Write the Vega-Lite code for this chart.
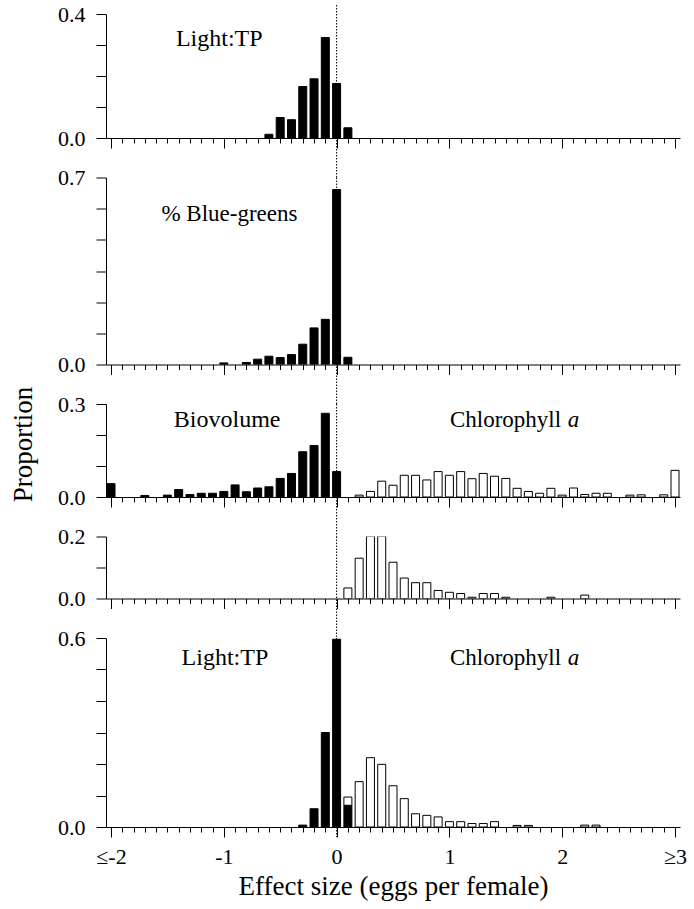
{
  "$schema": "https://vega.github.io/schema/vega-lite/v6.json",
  "background": "white",
  "padding": {"left": 9, "top": 3, "right": 5, "bottom": 5},
  "spacing": 39.5,
  "bounds": "flush",
  "config": {
    "view": {"stroke": null},
    "font": "Liberation Serif",
    "axis": {"labelFont": "Liberation Serif", "titleFont": "Liberation Serif", "labelColor": "black", "titleColor": "black", "domainColor": "black", "tickColor": "black", "grid": false, "titleFontWeight": "normal", "domainWidth": 1, "tickWidth": 1, "labelOverlap": false}
  },
  "datasets": {
    "p1": [
      {"e": -0.6, "p": 0.012, "v": "Light:TP"},
      {"e": -0.5, "p": 0.066, "v": "Light:TP"},
      {"e": -0.4, "p": 0.059, "v": "Light:TP"},
      {"e": -0.3, "p": 0.166, "v": "Light:TP"},
      {"e": -0.2, "p": 0.191, "v": "Light:TP"},
      {"e": -0.1, "p": 0.324, "v": "Light:TP"},
      {"e": 0.0, "p": 0.176, "v": "Light:TP"},
      {"e": 0.1, "p": 0.033, "v": "Light:TP"}
    ],
    "p2": [
      {"e": -1.0, "p": 0.006, "v": "% Blue-greens"},
      {"e": -0.8, "p": 0.0075, "v": "% Blue-greens"},
      {"e": -0.7, "p": 0.020, "v": "% Blue-greens"},
      {"e": -0.6, "p": 0.031, "v": "% Blue-greens"},
      {"e": -0.5, "p": 0.026, "v": "% Blue-greens"},
      {"e": -0.4, "p": 0.037, "v": "% Blue-greens"},
      {"e": -0.3, "p": 0.076, "v": "% Blue-greens"},
      {"e": -0.2, "p": 0.137, "v": "% Blue-greens"},
      {"e": -0.1, "p": 0.169, "v": "% Blue-greens"},
      {"e": 0.0, "p": 0.655, "v": "% Blue-greens"},
      {"e": 0.1, "p": 0.027, "v": "% Blue-greens"}
    ],
    "p3": [
      {"e": -2.0, "p": 0.043, "v": "Biovolume"},
      {"e": -1.7, "p": 0.005, "v": "Biovolume"},
      {"e": -1.5, "p": 0.006, "v": "Biovolume"},
      {"e": -1.4, "p": 0.024, "v": "Biovolume"},
      {"e": -1.3, "p": 0.008, "v": "Biovolume"},
      {"e": -1.2, "p": 0.012, "v": "Biovolume"},
      {"e": -1.1, "p": 0.012, "v": "Biovolume"},
      {"e": -1.0, "p": 0.018, "v": "Biovolume"},
      {"e": -0.9, "p": 0.039, "v": "Biovolume"},
      {"e": -0.8, "p": 0.017, "v": "Biovolume"},
      {"e": -0.7, "p": 0.029, "v": "Biovolume"},
      {"e": -0.6, "p": 0.033, "v": "Biovolume"},
      {"e": -0.5, "p": 0.060, "v": "Biovolume"},
      {"e": -0.4, "p": 0.076, "v": "Biovolume"},
      {"e": -0.3, "p": 0.146, "v": "Biovolume"},
      {"e": -0.2, "p": 0.166, "v": "Biovolume"},
      {"e": -0.1, "p": 0.270, "v": "Biovolume"},
      {"e": 0.0, "p": 0.082, "v": "Biovolume"},
      {"e": 0.2, "p": 0.006, "v": "Chlorophyll a"},
      {"e": 0.3, "p": 0.018, "v": "Chlorophyll a"},
      {"e": 0.4, "p": 0.051, "v": "Chlorophyll a"},
      {"e": 0.5, "p": 0.038, "v": "Chlorophyll a"},
      {"e": 0.6, "p": 0.070, "v": "Chlorophyll a"},
      {"e": 0.7, "p": 0.070, "v": "Chlorophyll a"},
      {"e": 0.8, "p": 0.055, "v": "Chlorophyll a"},
      {"e": 0.9, "p": 0.082, "v": "Chlorophyll a"},
      {"e": 1.0, "p": 0.070, "v": "Chlorophyll a"},
      {"e": 1.1, "p": 0.082, "v": "Chlorophyll a"},
      {"e": 1.2, "p": 0.059, "v": "Chlorophyll a"},
      {"e": 1.3, "p": 0.076, "v": "Chlorophyll a"},
      {"e": 1.4, "p": 0.067, "v": "Chlorophyll a"},
      {"e": 1.5, "p": 0.060, "v": "Chlorophyll a"},
      {"e": 1.6, "p": 0.028, "v": "Chlorophyll a"},
      {"e": 1.7, "p": 0.018, "v": "Chlorophyll a"},
      {"e": 1.8, "p": 0.012, "v": "Chlorophyll a"},
      {"e": 1.9, "p": 0.028, "v": "Chlorophyll a"},
      {"e": 2.0, "p": 0.006, "v": "Chlorophyll a"},
      {"e": 2.1, "p": 0.029, "v": "Chlorophyll a"},
      {"e": 2.2, "p": 0.008, "v": "Chlorophyll a"},
      {"e": 2.3, "p": 0.012, "v": "Chlorophyll a"},
      {"e": 2.4, "p": 0.012, "v": "Chlorophyll a"},
      {"e": 2.6, "p": 0.006, "v": "Chlorophyll a"},
      {"e": 2.7, "p": 0.007, "v": "Chlorophyll a"},
      {"e": 2.9, "p": 0.007, "v": "Chlorophyll a"},
      {"e": 3.0, "p": 0.086, "v": "Chlorophyll a"}
    ],
    "p4": [
      {"e": 0.1, "p": 0.034, "v": "Chlorophyll a"},
      {"e": 0.2, "p": 0.130, "v": "Chlorophyll a"},
      {"e": 0.3, "p": 0.201, "v": "Chlorophyll a"},
      {"e": 0.4, "p": 0.201, "v": "Chlorophyll a"},
      {"e": 0.5, "p": 0.117, "v": "Chlorophyll a"},
      {"e": 0.6, "p": 0.066, "v": "Chlorophyll a"},
      {"e": 0.7, "p": 0.051, "v": "Chlorophyll a"},
      {"e": 0.8, "p": 0.051, "v": "Chlorophyll a"},
      {"e": 0.9, "p": 0.026, "v": "Chlorophyll a"},
      {"e": 1.0, "p": 0.020, "v": "Chlorophyll a"},
      {"e": 1.1, "p": 0.016, "v": "Chlorophyll a"},
      {"e": 1.2, "p": 0.004, "v": "Chlorophyll a"},
      {"e": 1.3, "p": 0.016, "v": "Chlorophyll a"},
      {"e": 1.4, "p": 0.016, "v": "Chlorophyll a"},
      {"e": 1.5, "p": 0.004, "v": "Chlorophyll a"},
      {"e": 1.9, "p": 0.004, "v": "Chlorophyll a"},
      {"e": 2.2, "p": 0.011, "v": "Chlorophyll a"}
    ],
    "p5": [
      {"e": -0.3, "p": 0.006, "v": "Light:TP"},
      {"e": -0.2, "p": 0.058, "v": "Light:TP"},
      {"e": -0.1, "p": 0.300, "v": "Light:TP"},
      {"e": 0.0, "p": 0.596, "v": "Light:TP"},
      {"e": 0.1, "p": 0.069, "v": "Light:TP"},
      {"e": 0.1, "p": 0.026, "v": "Chlorophyll a"},
      {"e": 0.2, "p": 0.144, "v": "Chlorophyll a"},
      {"e": 0.3, "p": 0.220, "v": "Chlorophyll a"},
      {"e": 0.4, "p": 0.199, "v": "Chlorophyll a"},
      {"e": 0.5, "p": 0.131, "v": "Chlorophyll a"},
      {"e": 0.6, "p": 0.090, "v": "Chlorophyll a"},
      {"e": 0.7, "p": 0.042, "v": "Chlorophyll a"},
      {"e": 0.8, "p": 0.037, "v": "Chlorophyll a"},
      {"e": 0.9, "p": 0.032, "v": "Chlorophyll a"},
      {"e": 1.0, "p": 0.017, "v": "Chlorophyll a"},
      {"e": 1.1, "p": 0.017, "v": "Chlorophyll a"},
      {"e": 1.2, "p": 0.011, "v": "Chlorophyll a"},
      {"e": 1.3, "p": 0.011, "v": "Chlorophyll a"},
      {"e": 1.4, "p": 0.017, "v": "Chlorophyll a"},
      {"e": 1.6, "p": 0.005, "v": "Chlorophyll a"},
      {"e": 1.7, "p": 0.005, "v": "Chlorophyll a"},
      {"e": 2.2, "p": 0.006, "v": "Chlorophyll a"},
      {"e": 2.3, "p": 0.006, "v": "Chlorophyll a"}
    ]
  },
  "vconcat": [
    {
      "width": 574, "height": 124,
      "encoding": {
        "x": {"field": "e", "type": "quantitative", "scale": {"domain": [-2, 3], "nice": false, "zero": false}, "axis": {"title": null, "labels": false, "values": [-2,-1.9,-1.8,-1.7,-1.6,-1.5,-1.4,-1.3,-1.2,-1.1,-1,-0.9,-0.8,-0.7,-0.6,-0.5,-0.4,-0.3,-0.2,-0.1,0,0.1,0.2,0.3,0.4,0.5,0.6,0.7,0.8,0.9,1,1.1,1.2,1.3,1.4,1.5,1.6,1.7,1.8,1.9,2,2.1,2.2,2.3,2.4,2.5,2.6,2.7,2.8,2.9,3], "tickSize": {"condition": {"test": "abs(datum.value - round(datum.value)) < 0.001", "value": 10}, "value": 5}}},
        "y": {"field": "p", "type": "quantitative", "scale": {"domain": [0, 0.4], "nice": false}, "axis": {"title": null, "values": [0, 0.1, 0.2, 0.3, 0.4], "labelExpr": "datum.value === 0 || datum.value === 0.4 ? format(datum.value, '.1f') : ''", "tickSize": 10, "labelPadding": 11, "labelFontSize": 22}}
      },
      "layer": [
        {"data": {"name": "p1"}, "mark": {"type": "bar", "size": 8, "stroke": "black", "strokeWidth": 1, "clip": true},
         "encoding": {"fill": {"field": "v", "type": "nominal", "scale": {"domain": ["Light:TP", "% Blue-greens", "Biovolume", "Chlorophyll a"], "range": ["black", "black", "black", "white"]}, "legend": null}}},
        {"data": {"name": "p1"}, "transform": [{"filter": "datum.e === 0"}], "mark": {"type": "rule", "color": "black", "strokeDash": [1.5, 1.5], "strokeWidth": 1},
         "encoding": {"y": {"datum": 0.429}, "y2": {"datum": -0.128}}},
        {"data": {"name": "p1"}, "transform": [{"filter": "datum.e === 0"}], "mark": {"type": "text", "text": "Light:TP", "font": "Liberation Serif", "fontSize": 24, "align": "center", "baseline": "middle", "color": "black"},
         "encoding": {"x": {"datum": -1.04}, "y": {"datum": 0.318}}}
      ]
    },
    {
      "width": 574, "height": 187,
      "encoding": {
        "x": {"field": "e", "type": "quantitative", "scale": {"domain": [-2, 3], "nice": false, "zero": false}, "axis": {"title": null, "labels": false, "values": [-2,-1.9,-1.8,-1.7,-1.6,-1.5,-1.4,-1.3,-1.2,-1.1,-1,-0.9,-0.8,-0.7,-0.6,-0.5,-0.4,-0.3,-0.2,-0.1,0,0.1,0.2,0.3,0.4,0.5,0.6,0.7,0.8,0.9,1,1.1,1.2,1.3,1.4,1.5,1.6,1.7,1.8,1.9,2,2.1,2.2,2.3,2.4,2.5,2.6,2.7,2.8,2.9,3], "tickSize": {"condition": {"test": "abs(datum.value - round(datum.value)) < 0.001", "value": 10}, "value": 5}}},
        "y": {"field": "p", "type": "quantitative", "scale": {"domain": [0, 0.7], "nice": false}, "axis": {"title": null, "values": [0, 0.11667, 0.23333, 0.35, 0.46667, 0.58333, 0.7], "labelExpr": "datum.value === 0 || datum.value === 0.7 ? format(datum.value, '.1f') : ''", "tickSize": 10, "labelPadding": 11, "labelFontSize": 22}}
      },
      "layer": [
        {"data": {"name": "p2"}, "mark": {"type": "bar", "size": 8, "stroke": "black", "strokeWidth": 1, "clip": true},
         "encoding": {"fill": {"field": "v", "type": "nominal", "scale": {"domain": ["Light:TP", "% Blue-greens", "Biovolume", "Chlorophyll a"], "range": ["black", "black", "black", "white"]}, "legend": null}}},
        {"data": {"name": "p2"}, "transform": [{"filter": "datum.e === 0"}], "mark": {"type": "rule", "color": "black", "strokeDash": [1.5, 1.5], "strokeWidth": 1},
         "encoding": {"y": {"datum": 0.7}, "y2": {"datum": -0.148}}},
        {"data": {"name": "p2"}, "transform": [{"filter": "datum.e === 0"}], "mark": {"type": "text", "text": "% Blue-greens", "font": "Liberation Serif", "fontSize": 23, "align": "center", "baseline": "middle", "color": "black"},
         "encoding": {"x": {"datum": -0.95}, "y": {"datum": 0.565}}}
      ]
    },
    {
      "width": 574, "height": 93,
      "encoding": {
        "x": {"field": "e", "type": "quantitative", "scale": {"domain": [-2, 3], "nice": false, "zero": false}, "axis": {"title": null, "labels": false, "values": [-2,-1.9,-1.8,-1.7,-1.6,-1.5,-1.4,-1.3,-1.2,-1.1,-1,-0.9,-0.8,-0.7,-0.6,-0.5,-0.4,-0.3,-0.2,-0.1,0,0.1,0.2,0.3,0.4,0.5,0.6,0.7,0.8,0.9,1,1.1,1.2,1.3,1.4,1.5,1.6,1.7,1.8,1.9,2,2.1,2.2,2.3,2.4,2.5,2.6,2.7,2.8,2.9,3], "tickSize": {"condition": {"test": "abs(datum.value - round(datum.value)) < 0.001", "value": 10}, "value": 5}}},
        "y": {"field": "p", "type": "quantitative", "scale": {"domain": [0, 0.3], "nice": false}, "axis": {"title": "Proportion", "titleFontSize": 27, "titlePadding": 20, "titleY": 40, "values": [0, 0.1, 0.2, 0.3], "labelExpr": "datum.value === 0 || datum.value === 0.3 ? format(datum.value, '.1f') : ''", "tickSize": 10, "labelPadding": 11, "labelFontSize": 22}}
      },
      "layer": [
        {"data": {"name": "p3"}, "mark": {"type": "bar", "size": 8, "stroke": "black", "strokeWidth": 1, "clip": true},
         "encoding": {"fill": {"field": "v", "type": "nominal", "scale": {"domain": ["Light:TP", "% Blue-greens", "Biovolume", "Chlorophyll a"], "range": ["black", "black", "black", "white"]}, "legend": null}}},
        {"data": {"name": "p3"}, "transform": [{"filter": "datum.e === 0"}], "mark": {"type": "rule", "color": "black", "strokeDash": [1.5, 1.5], "strokeWidth": 1},
         "encoding": {"y": {"datum": 0.3}, "y2": {"datum": -0.128}}},
        {"data": {"name": "p3"}, "transform": [{"filter": "datum.e === 0"}], "mark": {"type": "text", "text": "Biovolume", "font": "Liberation Serif", "fontSize": 24, "align": "center", "baseline": "middle", "color": "black"},
         "encoding": {"x": {"datum": -0.97}, "y": {"datum": 0.25}}},
        {"data": {"name": "p3"}, "transform": [{"filter": "datum.e === 0"}], "mark": {"type": "text", "text": "Chlorophyll", "font": "Liberation Serif", "fontSize": 23, "align": "right", "baseline": "middle", "color": "black"},
         "encoding": {"x": {"datum": 1.99}, "y": {"datum": 0.25}}},
        {"data": {"name": "p3"}, "transform": [{"filter": "datum.e === 0"}], "mark": {"type": "text", "text": "a", "font": "Liberation Serif", "fontStyle": "italic", "fontSize": 23, "align": "left", "baseline": "middle", "color": "black"},
         "encoding": {"x": {"datum": 2.05}, "y": {"datum": 0.25}}}
      ]
    },
    {
      "width": 574, "height": 62,
      "encoding": {
        "x": {"field": "e", "type": "quantitative", "scale": {"domain": [-2, 3], "nice": false, "zero": false}, "axis": {"title": null, "labels": false, "values": [-2,-1.9,-1.8,-1.7,-1.6,-1.5,-1.4,-1.3,-1.2,-1.1,-1,-0.9,-0.8,-0.7,-0.6,-0.5,-0.4,-0.3,-0.2,-0.1,0,0.1,0.2,0.3,0.4,0.5,0.6,0.7,0.8,0.9,1,1.1,1.2,1.3,1.4,1.5,1.6,1.7,1.8,1.9,2,2.1,2.2,2.3,2.4,2.5,2.6,2.7,2.8,2.9,3], "tickSize": {"condition": {"test": "abs(datum.value - round(datum.value)) < 0.001", "value": 10}, "value": 5}}},
        "y": {"field": "p", "type": "quantitative", "scale": {"domain": [0, 0.2], "nice": false}, "axis": {"title": null, "values": [0, 0.1, 0.2], "labelExpr": "datum.value === 0 || datum.value === 0.2 ? format(datum.value, '.1f') : ''", "tickSize": 10, "labelPadding": 11, "labelFontSize": 22}}
      },
      "layer": [
        {"data": {"name": "p4"}, "mark": {"type": "bar", "size": 8, "stroke": "black", "strokeWidth": 1, "clip": true},
         "encoding": {"fill": {"field": "v", "type": "nominal", "scale": {"domain": ["Light:TP", "% Blue-greens", "Biovolume", "Chlorophyll a"], "range": ["black", "black", "black", "white"]}, "legend": null}}},
        {"data": {"name": "p4"}, "transform": [{"filter": "datum.e === 0.1"}], "mark": {"type": "rule", "color": "black", "strokeDash": [1.5, 1.5], "strokeWidth": 1},
         "encoding": {"x": {"datum": 0}, "y": {"datum": 0.2}, "y2": {"datum": -0.128}}}
      ]
    },
    {
      "width": 574, "height": 189,
      "encoding": {
        "x": {"field": "e", "type": "quantitative", "scale": {"domain": [-2, 3], "nice": false, "zero": false}, "axis": {"title": "Effect size (eggs per female)", "titleFontSize": 27, "titlePadding": 6, "labelFontSize": 22, "labelPadding": 9, "labelFlush": false, "labelExpr": "datum.value === -2 ? '≤-2' : datum.value === -1 ? '-1' : datum.value === 0 ? '0' : datum.value === 1 ? '1' : datum.value === 2 ? '2' : datum.value === 3 ? '≥3' : ''", "values": [-2,-1.9,-1.8,-1.7,-1.6,-1.5,-1.4,-1.3,-1.2,-1.1,-1,-0.9,-0.8,-0.7,-0.6,-0.5,-0.4,-0.3,-0.2,-0.1,0,0.1,0.2,0.3,0.4,0.5,0.6,0.7,0.8,0.9,1,1.1,1.2,1.3,1.4,1.5,1.6,1.7,1.8,1.9,2,2.1,2.2,2.3,2.4,2.5,2.6,2.7,2.8,2.9,3], "tickSize": {"condition": {"test": "abs(datum.value - round(datum.value)) < 0.001", "value": 10}, "value": 5}}},
        "y": {"field": "p", "type": "quantitative", "scale": {"domain": [0, 0.6], "nice": false}, "axis": {"title": null, "values": [0, 0.1, 0.2, 0.3, 0.4, 0.5, 0.6], "labelExpr": "datum.value === 0 || datum.value === 0.6 ? format(datum.value, '.1f') : ''", "tickSize": 10, "labelPadding": 11, "labelFontSize": 22}}
      },
      "layer": [
        {"data": {"name": "p5"}, "mark": {"type": "bar", "size": 8, "stroke": "black", "strokeWidth": 1, "clip": true},
         "encoding": {"fill": {"field": "v", "type": "nominal", "scale": {"domain": ["Light:TP", "% Blue-greens", "Biovolume", "Chlorophyll a"], "range": ["black", "black", "black", "white"]}, "legend": null}}},
        {"data": {"name": "p5"}, "transform": [{"filter": "datum.e === 0"}], "mark": {"type": "rule", "color": "black", "strokeDash": [1.5, 1.5], "strokeWidth": 1},
         "encoding": {"y": {"datum": 0.6}, "y2": {"datum": -0.032}}},
        {"data": {"name": "p5"}, "transform": [{"filter": "datum.e === 0"}], "mark": {"type": "text", "text": "Light:TP", "font": "Liberation Serif", "fontSize": 24, "align": "center", "baseline": "middle", "color": "black"},
         "encoding": {"x": {"datum": -0.99}, "y": {"datum": 0.536}}},
        {"data": {"name": "p5"}, "transform": [{"filter": "datum.e === 0"}], "mark": {"type": "text", "text": "Chlorophyll", "font": "Liberation Serif", "fontSize": 23, "align": "right", "baseline": "middle", "color": "black"},
         "encoding": {"x": {"datum": 1.99}, "y": {"datum": 0.536}}},
        {"data": {"name": "p5"}, "transform": [{"filter": "datum.e === 0"}], "mark": {"type": "text", "text": "a", "font": "Liberation Serif", "fontStyle": "italic", "fontSize": 23, "align": "left", "baseline": "middle", "color": "black"},
         "encoding": {"x": {"datum": 2.05}, "y": {"datum": 0.536}}}
      ]
    }
  ]
}
